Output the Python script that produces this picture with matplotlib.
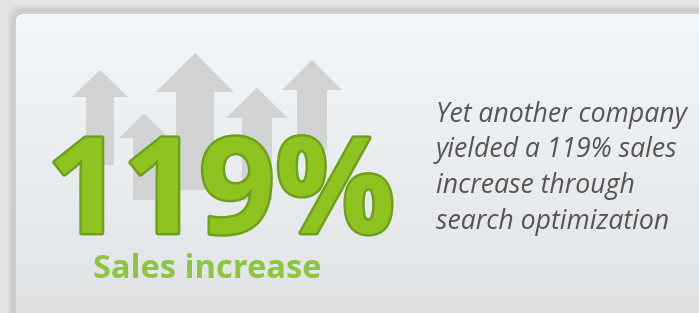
import matplotlib
matplotlib.use("Agg")
import matplotlib.pyplot as plt
import matplotlib.patheffects as pe
from matplotlib.patches import FancyBboxPatch, Polygon
import numpy as np

# Figure size in pixels
W, H = 699, 313

# Decorative up arrows: apex x, apex y, head half-width, shaft half-width, head depth, bottom y
arrow_x = [100, 195, 312, 257, 144]
arrow_top = [70, 53, 60, 88, 113]
arrow_head_half = [28, 39, 30, 31, 25]
arrow_shaft_half = [14, 19, 15, 15, 11]
arrow_head_depth = [27, 39, 30, 30, 25]
arrow_bottom = [165, 190, 150, 200, 200]

big_value = "119%"
subtitle = "Sales increase"
blurb_lines = ["Yet another company", "yielded a 119% sales",
               "increase through", "search optimization"]

fig = plt.figure(figsize=(W / 100, H / 100), dpi=100)
ax = fig.add_axes([0, 0, 1, 1])
ax.set_xlim(0, W)
ax.set_ylim(H, 0)
ax.axis("off")

# outer background
fig.patch.set_facecolor("#e2e3e4")

# soft shadow around the panel
for i, a in enumerate([0.05, 0.08, 0.11, 0.15]):
    off = 6 - i * 1.5
    sh = FancyBboxPatch((15 - off, 13 - off), W + 20, H + 20,
                        boxstyle="round,pad=0,rounding_size=10",
                        fc="none", ec=(0.55, 0.55, 0.55, a), lw=2.5, zorder=1)
    ax.add_patch(sh)

# panel with vertical gradient, runs past the bottom and right edges
panel = FancyBboxPatch((15, 13), W + 20, H + 20,
                       boxstyle="round,pad=0,rounding_size=9",
                       fc="none", ec="#c4c5c6", lw=1.0, zorder=3)
ax.add_patch(panel)
grad = np.linspace(0, 1, 256).reshape(-1, 1)
top = np.array([0.955, 0.968, 0.980])
bot = np.array([0.885, 0.895, 0.905])
img = top + (bot - top) * grad[..., None]
im = ax.imshow(img, extent=(15, W, 297, 13), aspect="auto", zorder=2)
im.set_clip_path(panel)

# flat strip at the bottom of the panel
strip = ax.fill_between([15, W], 297, H, color="#e0e0df", zorder=2)
strip.set_clip_path(panel)

# arrows
for x, t, hh, sw, hd, b in zip(arrow_x, arrow_top, arrow_head_half,
                               arrow_shaft_half, arrow_head_depth, arrow_bottom):
    pts = [(x, t), (x + hh, t + hd), (x + sw, t + hd), (x + sw, b),
           (x - sw, b), (x - sw, t + hd), (x - hh, t + hd)]
    ax.add_patch(Polygon(pts, closed=True, fc="#d0d2d4", ec="none", zorder=4))

# big number
ax.text(221, 233, big_value, fontsize=96, fontweight="bold", family="Open Sans",
        color="#8dc21f", ha="center", va="baseline", zorder=5,
        path_effects=[pe.Stroke(linewidth=3.5, foreground="#6f9f1a"), pe.Normal()])

ax.text(207, 278, subtitle, fontsize=23.5, fontweight="bold", family="Open Sans",
        color="#8cc63f", ha="center", va="baseline", zorder=5)

# blurb on the right
for i, line in enumerate(blurb_lines):
    ax.text(436, 122 + i * 35.5, line, fontsize=19.2, style="italic",
            family="Open Sans", color="#555555", ha="left", va="baseline", zorder=5)

fig.savefig("out.png", dpi=100)
